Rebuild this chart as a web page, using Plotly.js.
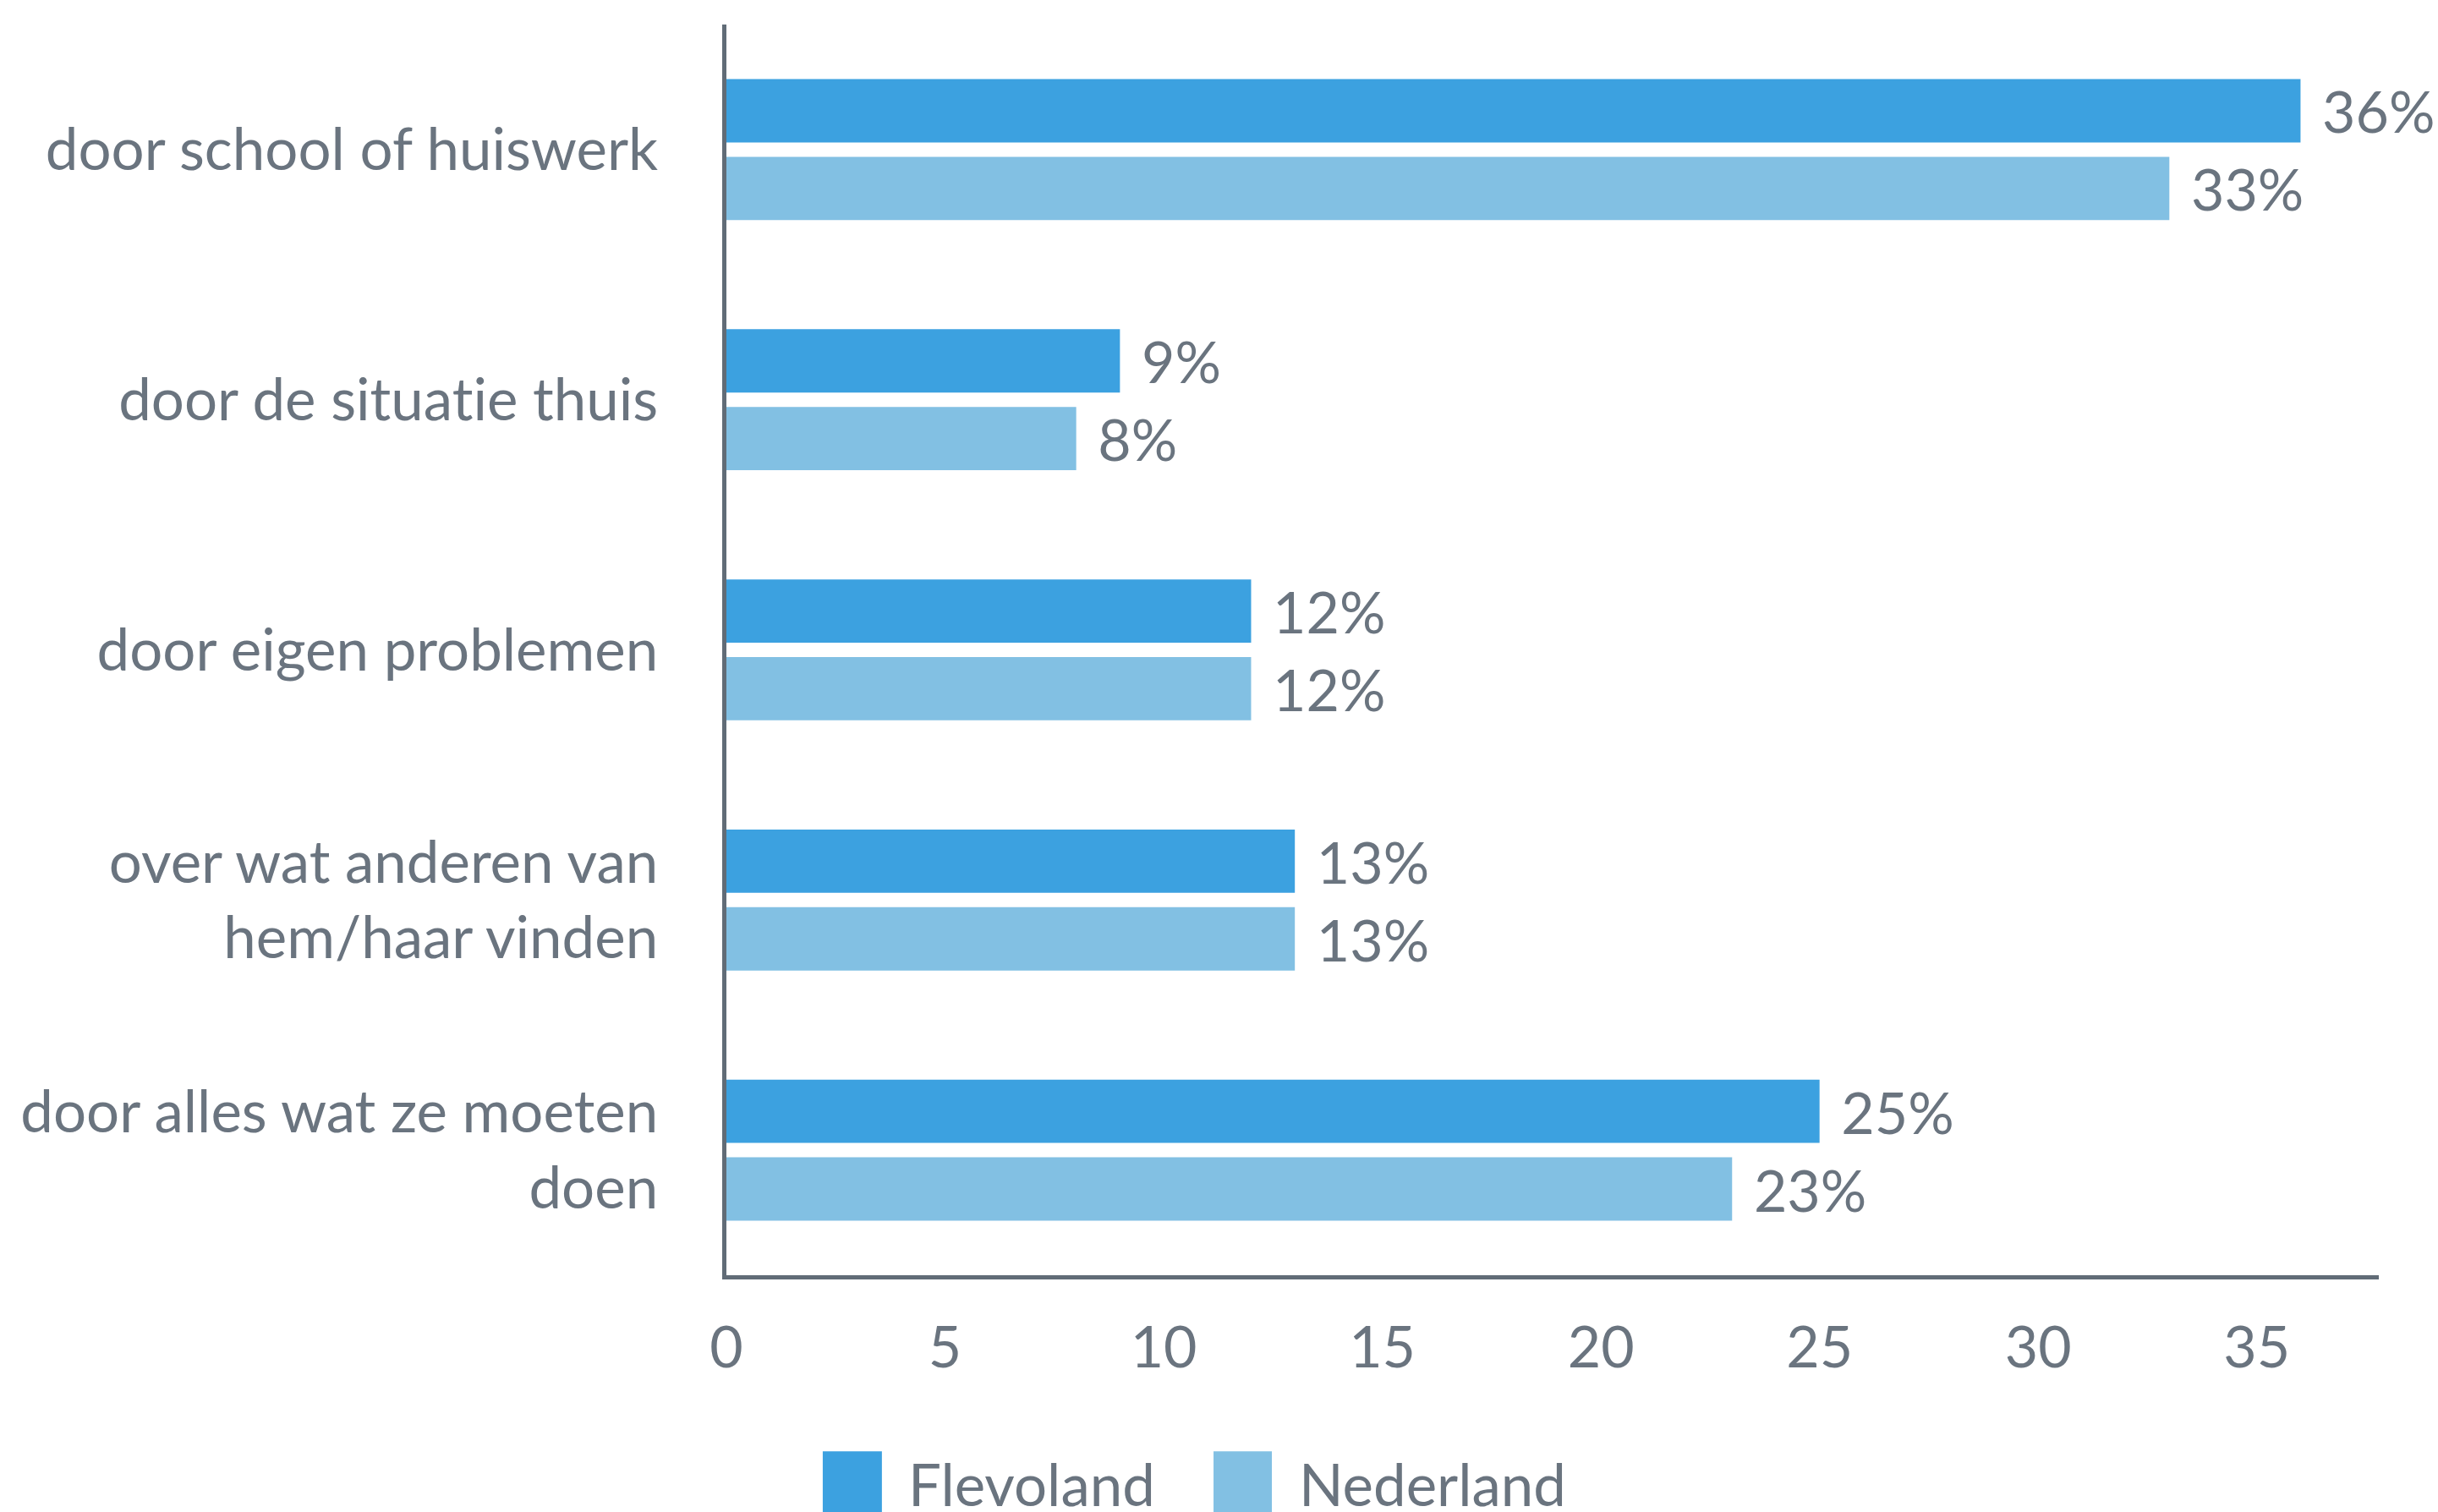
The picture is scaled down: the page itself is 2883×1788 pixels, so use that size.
<!DOCTYPE html>
<html>
<head>
<meta charset="utf-8">
<script src="https://cdn.plot.ly/plotly-3.0.1.min.js"></script>
<style>
  html, body { margin: 0; padding: 0; background: #ffffff; overflow: hidden; }
  #chart { width: 2883px; height: 1788px; }
  #chart text { font-variant-ligatures: none; font-feature-settings: "liga" 0, "clig" 0; }
</style>
</head>
<body>
<div id="chart"></div>
<script>
// ---- data ----
const categories = [
  'door school of huiswerk',
  'door de situatie thuis',
  'door eigen problemen',
  'over wat anderen van<br>hem/haar vinden',
  'door alles wat ze moeten<br>doen'
];
const seriesNames = ['Flevoland', 'Nederland'];
const flevoland = [36, 9, 12, 13, 25];
const nederland = [33, 8, 12, 13, 23];
const xTickValues = [0, 5, 10, 15, 20, 25, 30, 35];

// ---- styles ----
const colors = ['#3ca1e0', '#82c0e3'];
const textColor = '#6a747f';
const axisColor = '#616c77';
const FONT = 'Lato, "Open Sans", sans-serif';

function barTrace(name, values, color) {
  return {
    type: 'bar',
    orientation: 'h',
    name: name,
    y: categories,
    x: values,
    marker: { color: color, line: { width: 0 } },
    texttemplate: '\u2004%{x}%',
    textposition: 'outside',
    constraintext: 'none',
    cliponaxis: false,
    textfont: { family: FONT, size: 68, color: textColor },
    hoverinfo: 'x+y'
  };
}

const data = [
  barTrace(seriesNames[0], flevoland, colors[0]),
  barTrace(seriesNames[1], nederland, colors[1])
];

// custom legend (large square swatches, partially cut at the bottom like the reference)
const legendSwatches = [
  { x0: 0.0583, x1: 0.0941, tx: 0.1090 },
  { x0: 0.2948, x1: 0.3301, tx: 0.3454 }
];
const shapes = legendSwatches.map((s, i) => ({
  type: 'rect', xref: 'paper', yref: 'paper',
  x0: s.x0, x1: s.x1, y0: -0.1408, y1: -0.23,
  fillcolor: colors[i], line: { width: 0 }, layer: 'above'
}));
const annotations = legendSwatches.map((s, i) => ({
  xref: 'paper', yref: 'paper',
  x: s.tx, y: -0.167,
  xanchor: 'left', yanchor: 'middle',
  text: seriesNames[i], showarrow: false,
  font: { family: FONT, size: 69, color: textColor }
}));

const layout = {
  width: 2883,
  height: 1788,
  autosize: false,
  paper_bgcolor: '#ffffff',
  plot_bgcolor: '#ffffff',
  margin: { l: 859, r: 70, t: 29, b: 280, pad: 0 },
  showlegend: false,
  barmode: 'group',
  bargap: 0.379,
  bargroupgap: 0.185,
  font: { family: FONT, color: textColor, size: 64 },
  xaxis: {
    range: [0, 37.79],
    tickvals: xTickValues,
    ticktext: xTickValues.map(String),
    showgrid: false,
    zeroline: false,
    showline: true,
    linecolor: axisColor,
    linewidth: 5,
    ticks: '',
    ticklabelstandoff: 22,
    tickfont: { family: FONT, size: 68, color: textColor }
  },
  yaxis: {
    type: 'category',
    autorange: 'reversed',
    showgrid: false,
    zeroline: false,
    showline: true,
    linecolor: axisColor,
    linewidth: 5,
    ticks: '',
    ticklabelstandoff: 62,
    tickfont: { family: FONT, size: 69, color: textColor }
  },
  shapes: shapes,
  annotations: annotations
};

Plotly.newPlot('chart', data, layout, { displayModeBar: false, staticPlot: true });
</script>
</body>
</html>
